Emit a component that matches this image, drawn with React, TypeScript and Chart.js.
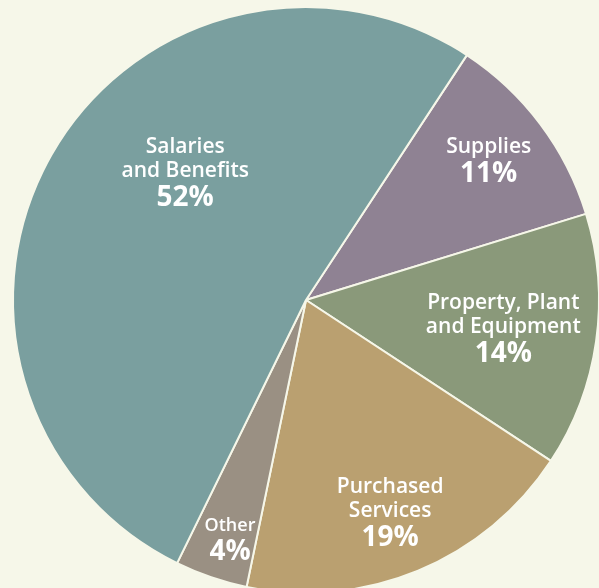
import React, { useEffect, useRef } from "react";
import { Chart, registerables } from "chart.js";

Chart.register(...registerables);

const categories = ["Supplies", "Property, Plant and Equipment", "Purchased Services", "Other", "Salaries and Benefits"];
const shares = [11, 14, 19, 4, 52];
const labelLines = [["Supplies"], ["Property, Plant", "and Equipment"], ["Purchased", "Services"], ["Other"], ["Salaries", "and Benefits"]];
const percentLabels = ["11%", "14%", "19%", "4%", "52%"];
const colors = ["#8f8293", "#8a997a", "#baa070", "#9a9083", "#7a9f9f"];
// label placement: angle (deg, clockwise from top) and radius fraction
const labelAngles = [52.6, 98, 158.4, 197.7, 316.6];
const labelRadii = [0.785, 0.68, 0.78, 0.853, 0.6];
const labelSizes = [21, 21, 21, 18, 21];

const BG = "#f6f7e9";

const labelPlugin = {
  id: "sliceLabels",
  afterDatasetsDraw(chart: any) {
    const ctx = chart.ctx;
    const meta = chart.getDatasetMeta(0);
    const arc0 = meta.data[0];
    const cx = arc0.x;
    const cy = arc0.y;
    const R = arc0.outerRadius;
    ctx.save();
    ctx.fillStyle = "#ffffff";
    ctx.textAlign = "center";
    ctx.textBaseline = "alphabetic";
    meta.data.forEach((_: any, i: number) => {
      const a = (labelAngles[i] * Math.PI) / 180;
      const x = cx + R * labelRadii[i] * Math.sin(a);
      const y = cy - R * labelRadii[i] * Math.cos(a);
      const lines = labelLines[i];
      const fs = labelSizes[i];
      const lh = 24;
      const pctH = 28;
      const total = lines.length * lh + pctH;
      let top = y - total / 2;
      ctx.font = `600 ${fs}px "Open Sans", sans-serif`;
      lines.forEach((ln: string, j: number) => {
        ctx.fillText(ln, x, top + lh * (j + 1) - 5);
      });
      ctx.font = `bold 28px "Open Sans", sans-serif`;
      ctx.fillText(percentLabels[i], x, top + lines.length * lh + pctH - 4);
    });
    ctx.restore();
  },
};

export default function App() {
  const ref = useRef<HTMLCanvasElement>(null);
  useEffect(() => {
    document.body.style.margin = "0";
    document.body.style.background = BG;
    const chart = new Chart(ref.current!, {
      type: "pie",
      data: {
        labels: categories,
        datasets: [
          {
            data: shares,
            backgroundColor: colors,
            borderColor: BG,
            borderWidth: 2,
          },
        ],
      },
      options: {
        responsive: false,
        animation: false,
        rotation: 33.3,
        layout: { padding: { left: 12, right: 12, top: 6, bottom: 6 } },
        plugins: {
          legend: { display: false },
          tooltip: { enabled: false },
        },
      },
      plugins: [labelPlugin],
    });
    return () => chart.destroy();
  }, []);
  return (
    <div style={{ position: "absolute", left: 0, top: 0, width: 599, height: 588, overflow: "hidden", background: BG }}>
      <canvas ref={ref} width={612} height={600} style={{ display: "block" }} />
    </div>
  );
}
